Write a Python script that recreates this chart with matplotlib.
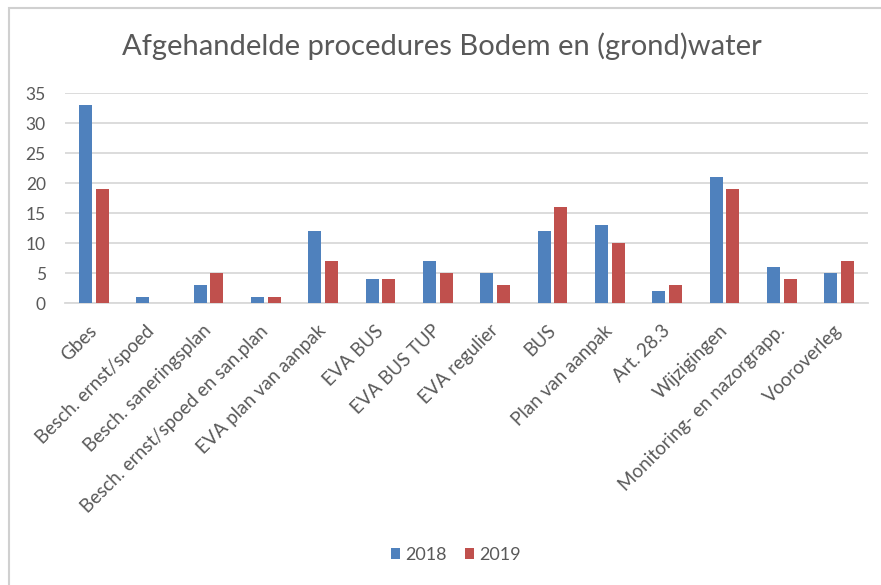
import numpy as np
from matplotlib import pyplot as plt
from matplotlib.patches import Rectangle

plt.rcParams['font.family'] = ['Lato', 'DejaVu Sans']

categories = ["Gbes", "Besch. ernst/spoed", "Besch. saneringsplan",
              "Besch. ernst/spoed en san.plan", "EVA plan van aanpak", "EVA BUS",
              "EVA BUS TUP", "EVA regulier", "BUS", "Plan van aanpak", "Art. 28.3",
              "Wijzigingen", "Monitoring- en nazorgrapp.", "Vooroverleg"]
values_2018 = [33, 1, 3, 1, 12, 4, 7, 5, 12, 13, 2, 21, 6, 5]
values_2019 = [19, 0, 5, 1, 7, 4, 5, 3, 16, 10, 3, 19, 4, 7]
years = ["2018", "2019"]
y_ticks = [0, 5, 10, 15, 20, 25, 30, 35]

blue = '#4F81BD'
red = '#C0504D'
text_col = '#595959'
grid_col = '#D9D9D9'

fig = plt.figure(figsize=(8.81, 5.85), dpi=100)
ax = fig.add_axes([0.074, 0.482, 0.911, 0.359])

# chart border (screenshot edge)
fig.patches.append(Rectangle((9 / 881, -0.05), 1.0, 1 - 8 / 585 + 0.05,
                             transform=fig.transFigure, fill=False,
                             edgecolor='#D0D0D0', linewidth=1.5))

x = np.arange(len(categories))
w = 0.23
ax.bar(x - 0.145, values_2018, w, color=blue, label=years[0], zorder=3)
ax.bar(x + 0.145, values_2019, w, color=red, label=years[1], zorder=3)

ax.set_xlim(-0.5, len(categories) - 0.5)
ax.set_ylim(0, 35)
ax.set_yticks(y_ticks)
ax.tick_params(axis='y', length=0, labelsize=12.5, colors=text_col, pad=14)
ax.tick_params(axis='x', length=0, pad=18)
ax.set_xticks(x)
ax.set_xticklabels(categories, rotation=45, ha='right', va='center',
                   rotation_mode='anchor', fontsize=13.5, color=text_col)
ax.grid(axis='y', color=grid_col, linewidth=1.3, zorder=0)
for s in ['top', 'right', 'left']:
    ax.spines[s].set_visible(False)
ax.spines['bottom'].set_color(grid_col)
ax.spines['bottom'].set_linewidth(1.3)

fig.text(0.502, 1 - 46 / 585, "Afgehandelde procedures Bodem en (grond)water",
         ha='center', va='center', fontsize=21, color=text_col)

fig.legend(loc='center', bbox_to_anchor=(456 / 881, 1 - 555 / 585), ncol=2, frameon=False,
           fontsize=13, labelcolor=text_col, handlelength=0.5, handleheight=0.6,
           handletextpad=0.3, columnspacing=1.0)

fig.savefig('out.png', dpi=100, facecolor='white')
